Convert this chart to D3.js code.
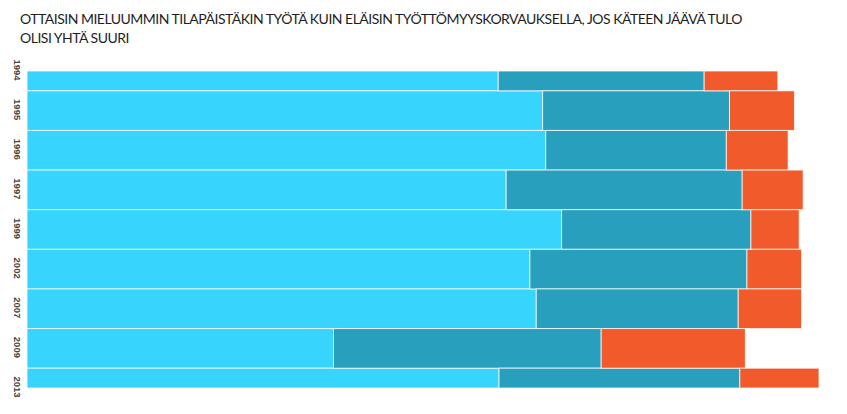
<!DOCTYPE html>
<html>
<head>
<meta charset="utf-8">
<script src="https://cdn.jsdelivr.net/npm/d3@7"></script>
<style>
  body { margin: 0; background: #fff; }
  svg { display: block; }
</style>
</head>
<body>
<svg id="chart" width="847" height="414"></svg>
<script>
// values, percent of answers
const years = ["1994", "1995", "1996", "1997", "1999", "2002", "2007", "2009", "2013"]
const agree = [59.5, 65.1, 65.5, 60.5, 67.5, 63.5, 64.3, 38.7, 59.6]
const neutral = [26.0, 23.6, 22.8, 29.8, 23.9, 27.4, 25.5, 33.8, 30.4]
const disagree = [9.3, 8.2, 7.8, 7.7, 6.1, 6.9, 8.0, 18.2, 10.0]
const titleLines = [
    "OTTAISIN MIELUUMMIN TILAPÄISTÄKIN TYÖTÄ KUIN ELÄISIN TYÖTTÖMYYSKORVAUKSELLA, JOS KÄTEEN JÄÄVÄ TULO",
    "OLISI YHTÄ SUURI"
]

const keys = ["agree", "neutral", "disagree"]
const colors = ["#37d5fe", "#289fbd", "#f15b2c"]

const rows = years.map((yr, i) => ({
    year: yr,
    agree: agree[i],
    neutral: neutral[i],
    disagree: disagree[i]
}))

const svg = d3.select("#chart")
const plotTop = 71, plotBottom = 388

const x = d3.scaleLinear().domain([0, 100]).range([27, 819])
// points, bars centred on them, first and last cut by the plot edges
const y = d3.scalePoint().domain(years).range([plotTop, plotBottom])
const step = y.step()

const color = d3.scaleOrdinal().domain(keys).range(colors)
const stacked = d3.stack().keys(keys)(rows)

const y0 = d => Math.max(plotTop, y(d.data.year) - step / 2)
const y1 = d => Math.min(plotBottom, y(d.data.year) + step / 2)

svg.append("g")
    .selectAll("g")
    .data(stacked)
    .join("g")
    .attr("fill", s => color(s.key))
    .selectAll("rect")
    .data(s => s)
    .join("rect")
    .attr("x", d => x(d[0]))
    .attr("y", d => y0(d))
    .attr("width", d => x(d[1]) - x(d[0]))
    .attr("height", d => y1(d) - y0(d))
    .attr("stroke", "#ffffff")
    .attr("stroke-opacity", 0.75)
    .attr("stroke-width", 1)

// year labels, turned
svg.append("g")
    .selectAll("text")
    .data(years)
    .join("text")
    .attr("transform", d => "translate(14," + (y(d) - 1) + ")rotate(90)")
    .attr("text-anchor", "middle")
    .attr("font-family", "'Liberation Sans Narrow', 'Liberation Sans', sans-serif")
    .attr("font-weight", "bold")
    .attr("font-size", 9.5)
    .attr("fill", "#444")
    .text(d => d)

// title
const title = svg.append("g")
title.selectAll("text")
    .data(titleLines)
    .join("text")
    .attr("x", 20)
    .attr("y", (d, i) => 24 + i * 19)
    .attr("font-family", "Lato, 'Open Sans', sans-serif")
    .attr("font-size", 14)
    .attr("fill", "#1e1e1e")
    .text(d => d)

// stretch first line to the picture's width
const first = title.select("text").node()
const len = first.getComputedTextLength()
if (Math.abs(len - 722) > 4){
    title.selectAll("text")
        .attr("letter-spacing", (722 - len) / titleLines[0].length)
}
</script>
</body>
</html>
